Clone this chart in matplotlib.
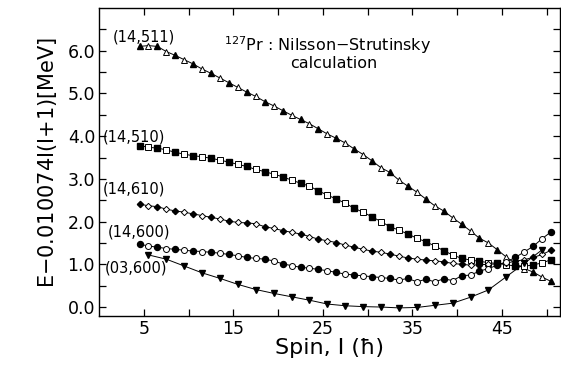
import matplotlib
matplotlib.use("Agg")
import matplotlib.pyplot as plt

# spin values (half-integer, odd-A nucleus)
spin = [4.5, 5.5, 6.5, 7.5, 8.5, 9.5, 10.5, 11.5, 12.5, 13.5, 14.5, 15.5,
        16.5, 17.5, 18.5, 19.5, 20.5, 21.5, 22.5, 23.5, 24.5, 25.5, 26.5,
        27.5, 28.5, 29.5, 30.5, 31.5, 32.5, 33.5, 34.5, 35.5, 36.5, 37.5,
        38.5, 39.5, 40.5, 41.5, 42.5, 43.5, 44.5, 45.5, 46.5, 47.5, 48.5,
        49.5, 50.5]

e_14511 = [6.10, 6.12, 6.10, 5.98, 5.89, 5.79, 5.69, 5.57, 5.47, 5.36, 5.25,
           5.14, 5.03, 4.93, 4.81, 4.71, 4.60, 4.49, 4.39, 4.29, 4.17, 4.05,
           3.95, 3.84, 3.70, 3.57, 3.42, 3.26, 3.15, 2.97, 2.83, 2.69, 2.53,
           2.37, 2.25, 2.09, 1.94, 1.78, 1.61, 1.50, 1.34, 1.17, 1.02, 0.90,
           0.82, 0.70, 0.60]

e_14510 = [3.78, 3.74, 3.72, 3.68, 3.62, 3.58, 3.54, 3.52, 3.48, 3.44, 3.39,
           3.34, 3.29, 3.22, 3.17, 3.11, 3.05, 2.97, 2.90, 2.83, 2.72, 2.62,
           2.53, 2.43, 2.31, 2.22, 2.11, 2.00, 1.88, 1.80, 1.71, 1.61, 1.53,
           1.43, 1.32, 1.22, 1.14, 1.10, 1.07, 1.04, 1.02, 0.99, 0.96, 0.95,
           0.99, 1.03, 1.11]

e_14610 = [2.41, 2.37, 2.35, 2.29, 2.25, 2.22, 2.18, 2.14, 2.10, 2.06, 2.01,
           1.98, 1.97, 1.95, 1.88, 1.84, 1.79, 1.75, 1.71, 1.65, 1.59, 1.55,
           1.51, 1.45, 1.40, 1.35, 1.31, 1.28, 1.24, 1.19, 1.15, 1.12, 1.10,
           1.08, 1.06, 1.02, 1.00, 0.98, 0.99, 1.00, 1.01, 1.03, 1.07, 1.11,
           1.16, 1.23, 1.33]

e_14600 = [1.47, 1.43, 1.40, 1.37, 1.35, 1.33, 1.31, 1.30, 1.28, 1.26, 1.23,
           1.20, 1.16, 1.14, 1.12, 1.08, 1.01, 0.97, 0.93, 0.91, 0.88, 0.85,
           0.81, 0.77, 0.75, 0.73, 0.71, 0.69, 0.67, 0.63, 0.67, 0.59, 0.65,
           0.59, 0.66, 0.62, 0.73, 0.75, 0.84, 0.90, 0.98, 1.06, 1.16, 1.29,
           1.42, 1.60, 1.76]

spin_03600 = [5.5, 7.5, 9.5, 11.5, 13.5, 15.5, 17.5, 19.5, 21.5, 23.5, 25.5,
              27.5, 29.5, 31.5, 33.5, 35.5, 37.5, 39.5, 41.5, 43.5, 45.5,
              47.5, 49.5]
e_03600 = [1.22, 1.12, 0.96, 0.80, 0.67, 0.53, 0.41, 0.32, 0.24, 0.16, 0.07,
           0.03, 0.01, 0.00, -0.02, -0.01, 0.04, 0.09, 0.23, 0.40, 0.71,
           1.02, 1.34]

labels = ["(14,511)", "(14,510)", "(14,610)", "(14,600)", "(03,600)"]
label_pos = [(1.5, 6.32), (0.4, 3.98), (0.4, 2.76), (1.0, 1.76), (0.6, 0.91)]

fig = plt.figure(figsize=(5.61, 3.79), dpi=100)
ax = fig.add_axes([0.1769, 0.1662, 0.8213, 0.8127])

ms = 4.3
series = [(e_14511, "^"), (e_14510, "s"), (e_14610, "D"), (e_14600, "o")]
for e, m in series:
    size = ms - 1.1 if m == "D" else ms
    if m == "s":
        size = ms - 0.6
    ax.plot(spin, e, "-", color="black", lw=0.7, zorder=2)
    ax.plot(spin[0::2], e[0::2], m, ls="none", color="black", ms=size, zorder=3)
    ax.plot(spin[1::2], e[1::2], m, ls="none", mfc="white", mec="black",
            mew=0.7, ms=size, zorder=3)

ax.plot(spin_03600, e_03600, "-", color="black", lw=0.7, zorder=2)
ax.plot(spin_03600, e_03600, "v", ls="none", color="black", ms=ms, zorder=3)

for txt, (x, y) in zip(labels, label_pos):
    ax.text(x, y, txt, fontsize=10.5, va="center", ha="left")

ax.text(13.9, 6.14, r"$^{127}$Pr : Nilsson$-$Strutinsky", fontsize=11.5,
        va="center", ha="left")
ax.text(21.3, 5.69, "calculation", fontsize=11.5, va="center", ha="left")

ax.set_xlim(0, 51.5)
ax.set_ylim(-0.21, 7.0)
ax.set_xticks([5, 10, 15, 20, 25, 30, 35, 40, 45, 50])
ax.set_xticklabels(["5", "", "15", "", "25", "", "35", "", "45", ""])
ax.set_yticks([0.0, 1.0, 2.0, 3.0, 4.0, 5.0, 6.0])
ax.set_yticklabels(["0.0", "1.0", "2.0", "3.0", "4.0", "5.0", "6.0"])
ax.set_yticks([0.5, 1.5, 2.5, 3.5, 4.5, 5.5, 6.5], minor=True)
ax.tick_params(which="both", direction="in", top=True, right=True,
               length=5, width=0.9, labelsize=12.5, pad=3)
for s in ax.spines.values():
    s.set_linewidth(1.0)

ax.set_xlabel("Spin, I (ħ)", fontsize=16, labelpad=0)
ax.set_ylabel("E$-$0.010074I(I+1)[MeV]", fontsize=15, labelpad=6)

fig.savefig("out.png", dpi=100)
